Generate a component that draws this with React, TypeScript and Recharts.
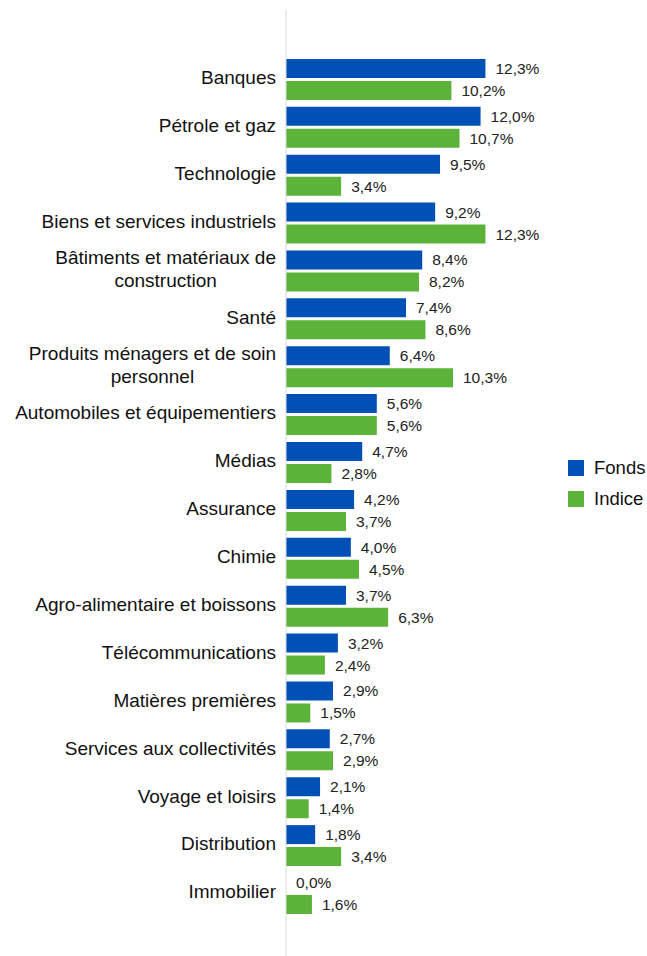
import React from 'react';
import { BarChart, Bar, XAxis, YAxis, Legend, LabelList } from 'recharts';

const categories = [
  'Banques',
  'Pétrole et gaz',
  'Technologie',
  'Biens et services industriels',
  'Bâtiments et matériaux de construction',
  'Santé',
  'Produits ménagers et de soin personnel',
  'Automobiles et équipementiers',
  'Médias',
  'Assurance',
  'Chimie',
  'Agro-alimentaire et boissons',
  'Télécommunications',
  'Matières premières',
  'Services aux collectivités',
  'Voyage et loisirs',
  'Distribution',
  'Immobilier',
];

const fonds = [12.3, 12.0, 9.5, 9.2, 8.4, 7.4, 6.4, 5.6, 4.7, 4.2, 4.0, 3.7, 3.2, 2.9, 2.7, 2.1, 1.8, 0.0];
const indice = [10.2, 10.7, 3.4, 12.3, 8.2, 8.6, 10.3, 5.6, 2.8, 3.7, 4.5, 6.3, 2.4, 1.5, 2.9, 1.4, 3.4, 1.6];

const seriesNames = ['Fonds', 'Indice'];
const colors = ['#0050b6', '#5cb33a'];

const data = categories.map((c, i) => ({ name: c, fonds: fonds[i], indice: indice[i] }));

const FONT = "'Liberation Sans', Arial, sans-serif";
const TICK_FONT_SIZE = 19;
const MAX_LABEL_WIDTH = 268;

let ctx: CanvasRenderingContext2D | null = null;
function measure(text: string, size: number): number {
  if (!ctx) {
    const c = document.createElement('canvas');
    ctx = c.getContext('2d');
  }
  if (!ctx) return text.length * size * 0.5;
  ctx.font = `${size}px ${FONT}`;
  return ctx.measureText(text).width;
}

function wrap(text: string): string[] {
  const words = text.split(' ');
  const lines: string[] = [];
  let cur = '';
  for (const w of words) {
    const t = cur ? cur + ' ' + w : w;
    if (cur && measure(t, TICK_FONT_SIZE) > MAX_LABEL_WIDTH) {
      lines.push(cur);
      cur = w;
    } else {
      cur = t;
    }
  }
  if (cur) lines.push(cur);
  return lines;
}

const CategoryTick = (props: any) => {
  const { x, y, payload } = props;
  const lines = wrap(String(payload.value));
  const blockW = Math.max(...lines.map((l) => measure(l, TICK_FONT_SIZE)));
  const cx = x - blockW / 2;
  const lh = 23;
  return (
    <g>
      {lines.map((l, i) => (
        <text
          key={i}
          x={cx}
          y={y + (i - (lines.length - 1) / 2) * lh}
          dy="0.28em"
          textAnchor="middle"
          fontSize={TICK_FONT_SIZE}
          fontFamily={FONT}
          fill="#111"
        >
          {l}
        </text>
      ))}
    </g>
  );
};

const fmt = (v: any) => `${Number(v).toFixed(1).replace('.', ',')}%`;

const ValueLabel = (props: any) => {
  const { x, y, width, height, value } = props;
  if (x == null || y == null) return null;
  return (
    <text
      x={Number(x) + Number(width || 0) + 10}
      y={Number(y) + Number(height || 0) / 2}
      dy="0.355em"
      textAnchor="start"
      fontSize={15.5}
      fontFamily={FONT}
      fill="#222"
    >
      {fmt(value)}
    </text>
  );
};

const LegendContent = () => (
  <div style={{ fontFamily: FONT }}>
    {seriesNames.map((n, i) => (
      <div key={n} style={{ display: 'flex', alignItems: 'center', height: 31 }}>
        <div style={{ width: 16, height: 16, background: colors[i], marginRight: 10 }} />
        <span style={{ fontSize: 18.5, color: '#111', lineHeight: '20px' }}>{n}</span>
      </div>
    ))}
  </div>
);

export default function App() {
  return (
    <div
      style={{
        position: 'absolute',
        left: 0,
        top: 0,
        width: 647,
        height: 956,
        overflow: 'hidden',
        background: '#fff',
        fontFamily: FONT,
      }}
    >
      <BarChart
        width={647}
        height={956}
        data={data}
        layout="vertical"
        margin={{ top: 10, right: 134, bottom: 0, left: 0 }}
        barCategoryGap={3.9}
        barGap={3}
      >
        <XAxis type="number" domain={[0, 14]} hide />
        <YAxis
          type="category"
          dataKey="name"
          width={286}
          axisLine={{ stroke: '#dadada' }}
          tickLine={false}
          tickSize={0}
          tickMargin={10}
          interval={0}
          tick={<CategoryTick />}
          padding={{ top: 45, bottom: 39 }}
        />
        <Legend
          layout="vertical"
          align="center"
          verticalAlign="middle"
          content={<LegendContent />}
          wrapperStyle={{ left: 568, top: 452, width: 90, height: 62 }}
        />
        <Bar
          dataKey="fonds"
          name="Fonds"
          fill={colors[0]}
          isAnimationActive={false}
          minPointSize={(v: any) => (v === 0 ? 0.001 : 0)}
        >
          <LabelList dataKey="fonds" content={<ValueLabel />} />
        </Bar>
        <Bar dataKey="indice" name="Indice" fill={colors[1]} isAnimationActive={false}>
          <LabelList dataKey="indice" content={<ValueLabel />} />
        </Bar>
      </BarChart>
    </div>
  );
}
